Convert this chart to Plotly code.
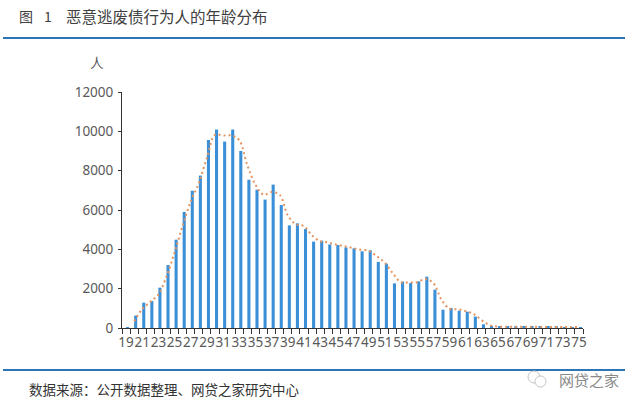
import plotly.graph_objects as go

W, H = 635, 402
plot_left, plot_right, plot_top, plot_bottom = 122, 583, 92, 328

ages = list(range(19, 76))
# head count per age
people = [50, 630, 1290, 1370, 2050, 3200, 4490, 5900, 6980, 7750,
          9560, 10090, 9480, 10090, 9000, 7540, 7030, 6530, 7290, 6250,
          5220, 5320, 5030, 4390, 4440, 4250, 4220, 4100, 4050, 3900,
          3950, 3360, 3270, 2270, 2360, 2290, 2370, 2610, 1950, 930,
          1020, 880, 830, 580, 190, 85, 70, 65, 60, 60,
          60, 55, 55, 55, 50, 50, 50]
# dotted trend line, starts one age later than the bars
trend_ages = ages[1:]
trend = [340, 960, 1330, 1710, 2620, 3850, 5200, 6440, 7370,
         8660, 9820, 9790, 9790, 9550, 8270, 7290, 6780, 6910, 6770,
         5730, 5270, 5180, 4710, 4410, 4350, 4240, 4160, 4070, 3980,
         3930, 3650, 3320, 2770, 2320, 2320, 2330, 2490, 2280, 1440,
         980, 950, 860, 700, 390, 140, 75, 68, 62, 60,
         60, 58, 55, 55, 52, 50, 50]
x_tick_vals = ages[::2]
y_tick_vals = [0, 2000, 4000, 6000, 8000, 10000, 12000]
y_tick_text = [str(v) for v in y_tick_vals]

fig_label = '图'
fig_number = '1'
title_text = '恶意逃废债行为人的年龄分布'
unit_text = '人'
source_text = '数据来源：公开数据整理、网贷之家研究中心'
brand_text = '网贷之家'

cjk_font = 'Noto Sans CJK SC'
tick_font = dict(family='Noto Sans', size=13.5, color='#595959')


def paper_x(px):
    return (px - plot_left) / (plot_right - plot_left)


def paper_y(px):
    return (plot_bottom - px) / (plot_bottom - plot_top)


def page_text(text, x, y, size, color):
    return dict(text=text, x=paper_x(x), y=paper_y(y), xref='paper', yref='paper',
                xanchor='left', yanchor='middle', showarrow=False,
                font=dict(family=cjk_font, size=size, color=color))


def rule(y):
    return dict(type='line', xref='paper', yref='paper', x0=paper_x(3), x1=paper_x(625),
                y0=paper_y(y), y1=paper_y(y), line=dict(color='#2e75b6', width=2))


def wechat_bubble(x0, y0, x1, y1):
    return dict(type='circle', xref='paper', yref='paper', x0=paper_x(x0), x1=paper_x(x1),
                y0=paper_y(y0), y1=paper_y(y1), line=dict(color='#c4c4c4', width=1),
                fillcolor='white')


fig = go.Figure()
fig.add_trace(go.Bar(x=ages, y=people, width=0.38, offset=0,
                     marker=dict(color='#3a8fd6', line_width=0)))
fig.add_trace(go.Scatter(x=trend_ages, y=trend, mode='lines',
                         line=dict(color='#e3945f', width=2, dash='2px,3px', shape='spline')))

fig.update_layout(
    width=W, height=H,
    margin=dict(l=plot_left, r=W - plot_right, t=plot_top, b=H - plot_bottom),
    paper_bgcolor='white', plot_bgcolor='white',
    showlegend=False,
    annotations=[
        page_text(fig_label, 17, 16, 14, '#404040'),
        page_text(fig_number, 42, 16, 14, '#404040'),
        page_text(title_text, 64, 16, 15.5, '#404040'),
        page_text(unit_text, 88, 62, 13.5, '#595959'),
        page_text(source_text, 27, 389, 13.5, '#333333'),
        page_text(brand_text, 557, 379, 15, '#8a8a8a'),
    ],
    shapes=[rule(38), rule(370),
            wechat_bubble(528, 371, 540, 383),
            wechat_bubble(535, 376, 546, 387)],
)
fig.update_xaxes(
    range=[18.5, 75.5], tickvals=x_tick_vals, ticks='',
    tickfont=tick_font, tickangle=0, showgrid=False, zeroline=False,
    showline=True, linecolor='#333333', linewidth=1, ticklabelstandoff=2,
    minor=dict(tick0=18.5, dtick=1, ticks='outside', ticklen=5,
               tickcolor='#333333', tickwidth=1, showgrid=False),
)
fig.update_yaxes(
    range=[0, 12000], tickvals=y_tick_vals, ticktext=y_tick_text, ticks='outside', ticklen=3,
    tickcolor='#333333', tickfont=tick_font, showgrid=False, zeroline=False,
    showline=True, linecolor='#333333', linewidth=1, ticklabelstandoff=2,
)

fig.write_html('out.html', post_script="document.body.style.margin = '0';",
               config=dict(displayModeBar=False))
